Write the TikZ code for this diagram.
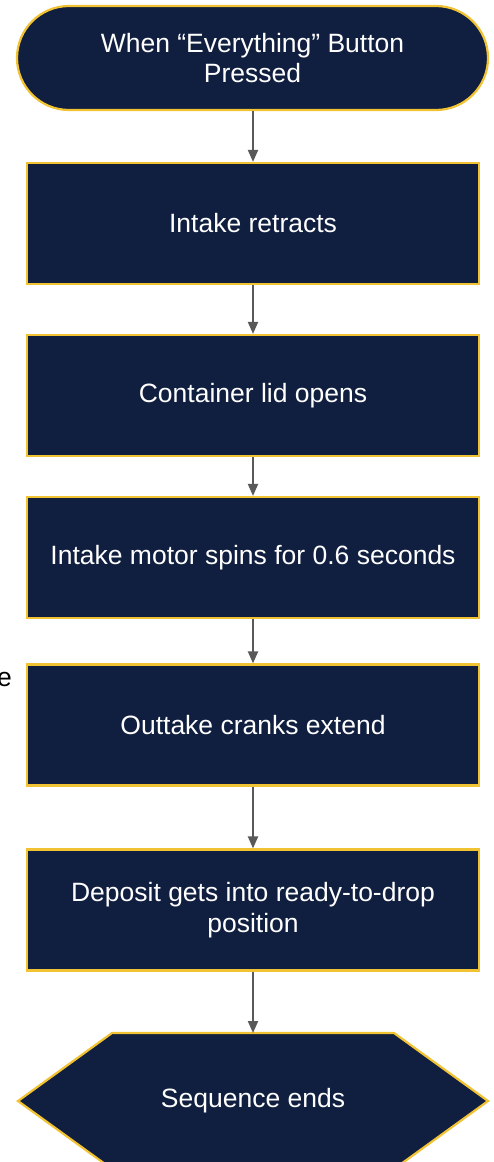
\documentclass[tikz,border=0pt]{standalone}
\usepackage{fontspec}
\setmainfont{Liberation Sans}
\usetikzlibrary{arrows.meta}
\definecolor{navy}{HTML}{101E3F}
\definecolor{gold}{HTML}{F1C232}
\definecolor{arrowgray}{HTML}{595959}
\begin{document}
\begin{tikzpicture}[x=1pt,y=-1pt,
  txt/.style={text=white, align=center, font=\fontsize{26.5}{30.5}\selectfont},
  stepbox/.style={txt, draw=gold, line width=2.2pt, fill=navy, minimum width=452pt, minimum height=121pt, inner sep=0pt},
  termbox/.style={txt, draw=gold, line width=2.2pt, fill=navy, minimum width=471pt, minimum height=104pt, inner sep=0pt, rounded corners=52pt},
  hexshape/.style={draw=gold, line width=2.2pt, fill=navy, line join=miter},
  arr/.style={draw=arrowgray, line width=2pt, -{Triangle[width=10pt,length=12pt]}}
]
\useasboundingbox (0,0) rectangle (493,1162);
\fill[white] (0,0) rectangle (493,1162);

\node[termbox] (start) at (252.5,58) {When “Everything” Button\\Pressed};
\node[stepbox] (b1) at (253,223.5) {Intake retracts};
\node[stepbox] (b2) at (253,395.5) {Container lid opens};
\node[stepbox] (b3) at (253,557.5) {Intake motor spins for 0.6 seconds};
\node[stepbox] (b4) at (253,725) {Outtake cranks extend};
\node[stepbox] (b5) at (253,910) {Deposit gets into ready-to-drop\\position};

\draw[hexshape] (18,1101) -- (112,1033) -- (394,1033) -- (488,1101) -- (394,1169) -- (112,1169) -- cycle;
\node[txt] (end) at (253,1101) {Sequence ends};
\coordinate (hextop) at (253,1033);

\node[anchor=base east, font=\fontsize{26.5}{30.5}\selectfont, inner sep=0pt] (stray) at (12,686) {e};

\draw[arr] (start.south -| b1.north) -- (b1.north);
\draw[arr] (b1.south) -- (b2.north);
\draw[arr] (b2.south) -- (b3.north);
\draw[arr] (b3.south) -- (b4.north);
\draw[arr] (b4.south) -- (b5.north);
\draw[arr] (b5.south) -- (hextop);
\end{tikzpicture}
\end{document}
